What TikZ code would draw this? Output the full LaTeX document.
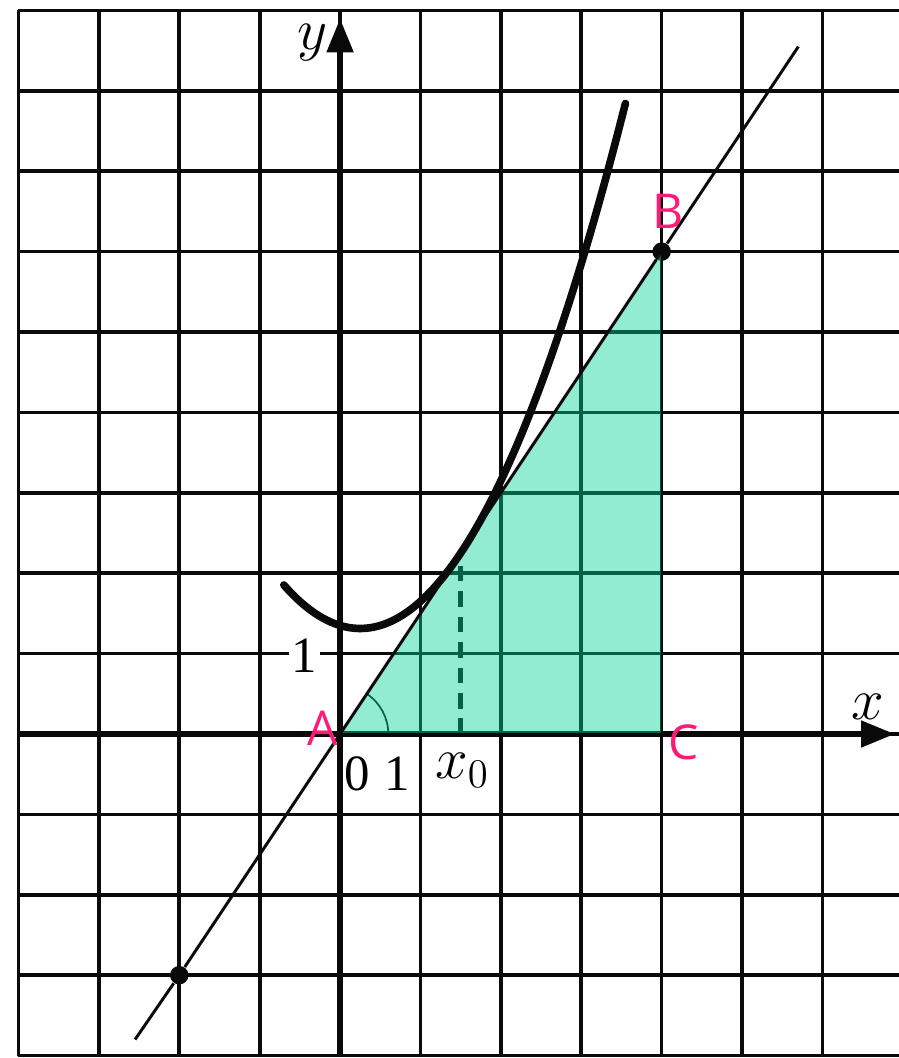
\documentclass[tikz,border=0pt]{standalone}
\usepackage{fontspec}
\setmainfont{Liberation Serif}
\newfontfamily\ptfont{Open Sans}
\usepackage{tikz}
\usetikzlibrary{arrows.meta}
\definecolor{figBlack}{HTML}{0A0A0A}
\definecolor{figTeal}{RGB}{0,210,150}
\definecolor{figPink}{HTML}{FF1A78}
\tikzset{
  gridline/.style={draw=figBlack, line width=1.3pt},
  axisline/.style={draw=figBlack, line width=2pt,
        -{Triangle[length=4.2mm, width=3.2mm]}},
  tangentline/.style={draw=figBlack, line width=1.05pt},
  curveline/.style={draw=figBlack, line width=2.7pt, line cap=round},
  dropline/.style={draw=figBlack, line width=1.7pt, dash pattern=on 5.5pt off 3.5pt},
  trifill/.style={fill=figTeal, fill opacity=0.43, draw=figBlack, line width=0.6pt},
  ptdot/.style={circle, fill=figBlack, inner sep=0pt, minimum size=2.3mm},
  ptlab/.style={font=\ptfont\fontsize{17}{17}\selectfont, text=figPink, inner sep=0pt},
  numlab/.style={font=\fontsize{18}{18}\selectfont, inner sep=1pt},
  axlab/.style={font=\fontsize{20}{20}\selectfont, inner sep=0pt}
}

\begin{document}
\begin{tikzpicture}[
  anglemark/.style={draw=figBlack, line width=0.6pt}
]
\useasboundingbox (-4.23,-4.03) rectangle (6.95,9.13);

\draw[gridline] (-4,-4) grid (6.95,9);

\coordinate (xstart) at (-4,0);
\coordinate (xend)   at (6.9,0);
\coordinate (ystart) at (0,-4);
\coordinate (yend)   at (0,8.9);
\draw[axisline] (xstart) -- (xend);
\draw[axisline] (ystart) -- (yend);

\coordinate (A)  at (0,0);
\coordinate (C)  at (4,0);
\coordinate (X0) at (1.5,0);
\coordinate (T)  at (1.5,2.25);
\coordinate (tlo) at (-2.55,-3.8);
\coordinate (thi) at (5.7,8.55);

\draw[dropline] (X0) -- (T);
\draw[anglemark] (0.6,0) arc[start angle=0, end angle=56.3, radius=0.6];

\node[ptdot] (B) at (4,6) {};
\node[ptdot] (P) at (-2,-3) {};

\filldraw[trifill] (A) -- (B.center) -- (C) -- cycle;

\draw[tangentline] (tlo) -- (P) -- (B) -- (thi);
\draw[curveline] plot[domain=-0.7:3.55, samples=80, smooth]
      (\x, {0.6*(\x-0.25)^2+1.3125});

\node[ptlab] (labA) at (-0.22,0.07) {A};
\node[ptlab] (labB) at (4.08,6.5)   {B};
\node[ptlab] (labC) at (4.27,-0.1)  {C};

\node[numlab] (zero) at (0.21,-0.5) {0};
\node[numlab] (one)  at (0.71,-0.5) {1};
\node[numlab, fill=white] (yone) at (-0.44,0.98) {1};
\node[axlab] (xzero) at (1.52,-0.45) {$x_0$};
\node[axlab] (ylab)  at (-0.34,8.6)  {$y$};
\node[axlab] (xlab)  at (6.57,0.34)  {$x$};
\end{tikzpicture}
\end{document}
